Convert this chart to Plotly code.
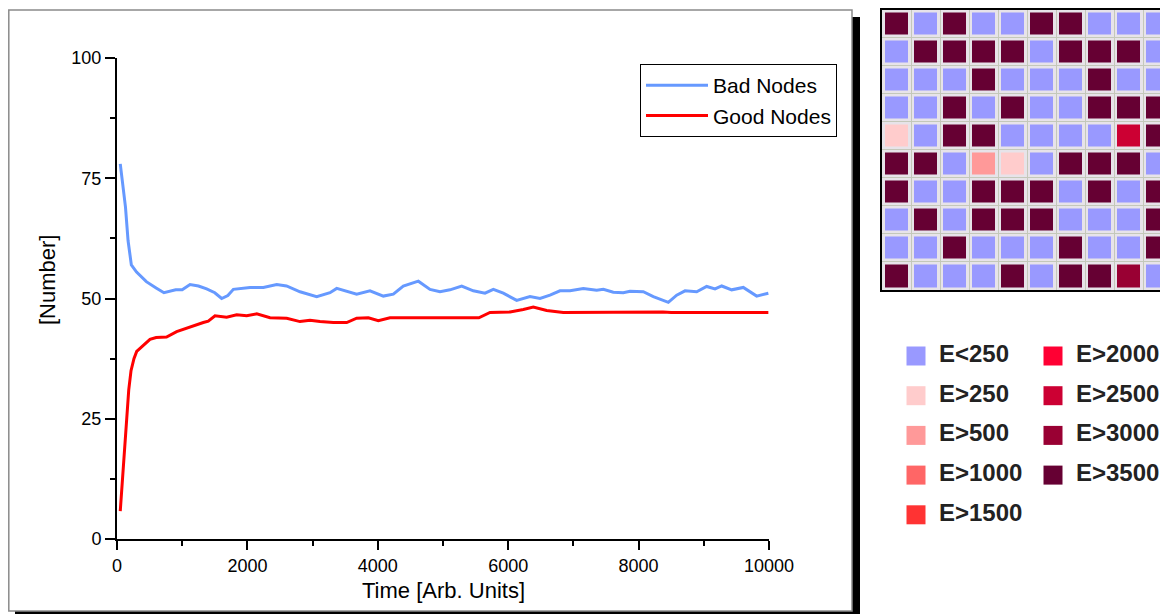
import plotly.graph_objects as go

# ---------------- data ----------------
bad_t = [50, 130, 170, 220, 300, 450, 600, 720, 900, 1000, 1120, 1250, 1375, 1500, 1605, 1700,
         1785, 2040, 2245, 2450, 2600, 2807, 3063, 3267, 3370, 3500, 3676, 3880, 4085, 4238,
         4391, 4622, 4801, 4954, 5107, 5287, 5465, 5644, 5772, 5925, 6130, 6334, 6488, 6641,
         6794, 6948, 7152, 7357, 7459, 7612, 7765, 7868, 8072, 8226, 8456, 8584, 8712, 8891,
         9044, 9172, 9275, 9428, 9606, 9811, 9990]
bad_v = [78.0, 69.0, 62.0, 57.0, 55.5, 53.5, 52.2, 51.2, 51.8, 51.8, 52.9, 52.6, 52.0, 51.2, 50.0, 50.6,
         51.9, 52.3, 52.3, 52.9, 52.6, 51.4, 50.4, 51.2, 52.1, 51.6, 50.9, 51.6, 50.5, 50.9,
         52.6, 53.6, 51.9, 51.4, 51.8, 52.6, 51.6, 51.1, 51.9, 51.1, 49.6, 50.4, 50.0, 50.7,
         51.6, 51.6, 52.1, 51.7, 51.9, 51.3, 51.2, 51.5, 51.4, 50.4, 49.2, 50.7, 51.6, 51.4,
         52.5, 52.0, 52.6, 51.8, 52.3, 50.5, 51.1]

good_t = [50, 100, 144, 180, 215, 260, 302, 429, 506, 600, 760, 915, 1120, 1324, 1400, 1503,
          1682, 1836, 1989, 2143, 2347, 2603, 2807, 2960, 3113, 3318, 3523, 3676, 3855, 4008,
          4187, 5550, 5721, 6028, 6232, 6385, 6590, 6845, 8374, 8500, 9990]
good_v = [5.8, 15.0, 24.0, 31.0, 35.0, 37.5, 39.0, 40.5, 41.5, 41.9, 42.0, 43.1, 44.1, 45.0, 45.3, 46.4,
          46.1, 46.6, 46.4, 46.8, 46.0, 45.9, 45.2, 45.5, 45.2, 45.0, 45.0, 45.9, 46.0, 45.4,
          46.0, 46.0, 47.1, 47.2, 47.7, 48.2, 47.5, 47.1, 47.2, 47.1, 47.1]

x_ticks = [0, 2000, 4000, 6000, 8000, 10000]
y_ticks = [0, 25, 50, 75, 100]

energy_labels = ["E<250", "E>250", "E>500", "E>1000", "E>1500",
                 "E>2000", "E>2500", "E>3000", "E>3500"]
energy_colors = ["#9999ff", "#ffcccc", "#ff9999", "#ff6666", "#ff3333",
                 "#ff0033", "#cc0033", "#990033", "#660033"]

# node energy class grid (index into energy_labels), row 0 = top
node_grid = [
    [8, 0, 8, 0, 0, 8, 8, 0, 0, 0],
    [0, 8, 8, 8, 8, 0, 8, 8, 8, 0],
    [0, 0, 0, 8, 0, 0, 0, 8, 0, 0],
    [0, 0, 8, 0, 8, 0, 0, 8, 8, 8],
    [1, 0, 8, 8, 0, 0, 0, 0, 6, 8],
    [8, 8, 0, 2, 1, 0, 8, 8, 8, 0],
    [8, 0, 0, 8, 8, 8, 0, 8, 0, 8],
    [0, 8, 0, 8, 8, 8, 0, 0, 0, 8],
    [0, 0, 8, 0, 0, 0, 8, 0, 0, 8],
    [8, 0, 0, 0, 8, 0, 8, 8, 7, 0],
]

# ---------------- layout helpers ----------------
PAGE_W, PAGE_H = 1168, 614
OFF = 8                      # default page body margin
W, H = PAGE_W - OFF, PAGE_H - OFF
FONT = "Liberation Sans, Arial, sans-serif"


def px(x):
    """page pixel x -> paper fraction"""
    return (x - OFF) / W


def py(y):
    """page pixel y -> paper fraction"""
    return 1 - (y - OFF) / H


fig = go.Figure()

# main curves
fig.add_trace(go.Scatter(x=bad_t, y=bad_v, mode="lines", name="Bad Nodes",
                         line=dict(color="#6699ff", width=3), xaxis="x", yaxis="y"))
fig.add_trace(go.Scatter(x=good_t, y=good_v, mode="lines", name="Good Nodes",
                         line=dict(color="#ff0000", width=3), xaxis="x", yaxis="y"))

# node grid heatmap
n = len(energy_colors) - 1
cscale = []
for i, c in enumerate(energy_colors):
    cscale.append([i / n, c])
fig.add_trace(go.Heatmap(z=node_grid, x=list(range(10)), y=list(range(10)),
                         colorscale=cscale, zmin=0, zmax=n, showscale=False,
                         xgap=6, ygap=6, xaxis="x2", yaxis="y2", hoverinfo="z"))

# energy legend (manual, two columns)
leg_x0, leg_dx, leg_y0, leg_dy, per_col = 916, 137, 356, 39.7, 5
mx, my, tx = [], [], []
for i, lab in enumerate(energy_labels):
    col, row = divmod(i, per_col)
    mx.append(leg_x0 + col * leg_dx)
    my.append(leg_y0 + row * leg_dy)
    tx.append(leg_x0 + col * leg_dx + 23)
fig.add_trace(go.Scatter(x=mx, y=my, mode="markers",
                         marker=dict(symbol="square", size=19, color=energy_colors,
                                     line=dict(width=0)),
                         showlegend=False, xaxis="x3", yaxis="y3", hoverinfo="skip"))
fig.add_trace(go.Scatter(x=tx, y=my, mode="text", text=energy_labels,
                         textposition="middle right",
                         textfont=dict(family=FONT, size=24, color="#222222", weight="bold"),
                         showlegend=False, xaxis="x3", yaxis="y3", hoverinfo="skip"))

shapes = [
    # panel shadow and panel
    dict(type="rect", xref="paper", yref="paper", x0=px(15), x1=px(860), y0=py(614), y1=py(17),
         fillcolor="black", line=dict(width=0), layer="below"),
    dict(type="rect", xref="paper", yref="paper", x0=px(8.8), x1=px(852), y0=py(611), y1=py(10),
         fillcolor="white", line=dict(color="#8a8a8a", width=1.5), layer="below"),
    # grid background
    dict(type="rect", xref="x2", yref="y2", x0=-0.5, x1=9.6, y0=-0.5, y1=9.5,
         fillcolor="#e7e3e9", line=dict(width=0), layer="below"),
]

axis_font = dict(family=FONT, size=18, color="black")

fig.update_layout(
    width=W, height=H, autosize=False,
    margin=dict(l=0, r=0, t=0, b=0, pad=0, autoexpand=False),
    paper_bgcolor="white", plot_bgcolor="rgba(0,0,0,0)",
    font=dict(family=FONT, color="black"),
    shapes=shapes,
    xaxis=dict(domain=[px(117), px(769)], range=[0, 10000], anchor="y", automargin=False,
               tickvals=x_ticks, ticktext=[str(v) for v in x_ticks],
               ticks="outside", ticklen=9, tickwidth=2, tickcolor="black",
               minor=dict(dtick=1000, ticks="outside", ticklen=5, tickwidth=2, tickcolor="black"),
               showline=True, linecolor="black", linewidth=2, showgrid=False, zeroline=False,
               tickfont=axis_font),
    yaxis=dict(domain=[py(539), py(58)], range=[0, 100], anchor="x", automargin=False,
               tickvals=y_ticks, ticktext=[str(v) for v in y_ticks],
               ticks="outside", ticklen=10, tickwidth=2, tickcolor="black",
               minor=dict(dtick=12.5, ticks="outside", ticklen=5, tickwidth=2, tickcolor="black"),
               showline=True, linecolor="black", linewidth=2, showgrid=False, zeroline=False,
               tickfont=axis_font),
    xaxis2=dict(domain=[px(882), 1.0], range=[-0.5, 9.36], anchor="y2", automargin=False,
                showticklabels=False, ticks="", tick0=0.5, dtick=1,
                showgrid=True, gridcolor="#c4c8ba", gridwidth=1, zeroline=False,
                showline=True, linecolor="black", linewidth=2, mirror=True),
    yaxis2=dict(domain=[py(290), py(9.5)], range=[9.5, -0.5], anchor="x2", automargin=False,
                showticklabels=False, ticks="", tick0=0.5, dtick=1,
                showgrid=True, gridcolor="#c4c8ba", gridwidth=1, zeroline=False,
                showline=True, linecolor="black", linewidth=2, mirror=False),
    xaxis3=dict(domain=[0, 1], range=[OFF, PAGE_W], anchor="y3", visible=False, fixedrange=True,
                automargin=False),
    yaxis3=dict(domain=[0, 1], range=[PAGE_H, OFF], anchor="x3", visible=False, fixedrange=True,
                automargin=False),
    legend=dict(x=px(837), xanchor="right", y=py(64), yanchor="top",
                bgcolor="white", bordercolor="black", borderwidth=1,
                font=dict(family=FONT, size=21, color="black"),
                itemwidth=62, tracegroupgap=0),
    annotations=[
        dict(text="Time [Arb. Units]", xref="paper", yref="paper", x=px(444), y=py(590),
             showarrow=False, font=dict(family=FONT, size=22, color="black"),
             xanchor="center", yanchor="middle"),
        dict(text="[Number]", xref="paper", yref="paper", x=px(47), y=py(280),
             showarrow=False, textangle=-90, font=dict(family=FONT, size=22, color="black"),
             xanchor="center", yanchor="middle"),
    ],
    showlegend=True,
)

fig.write_html("out.html", config={"responsive": False, "displayModeBar": False})
